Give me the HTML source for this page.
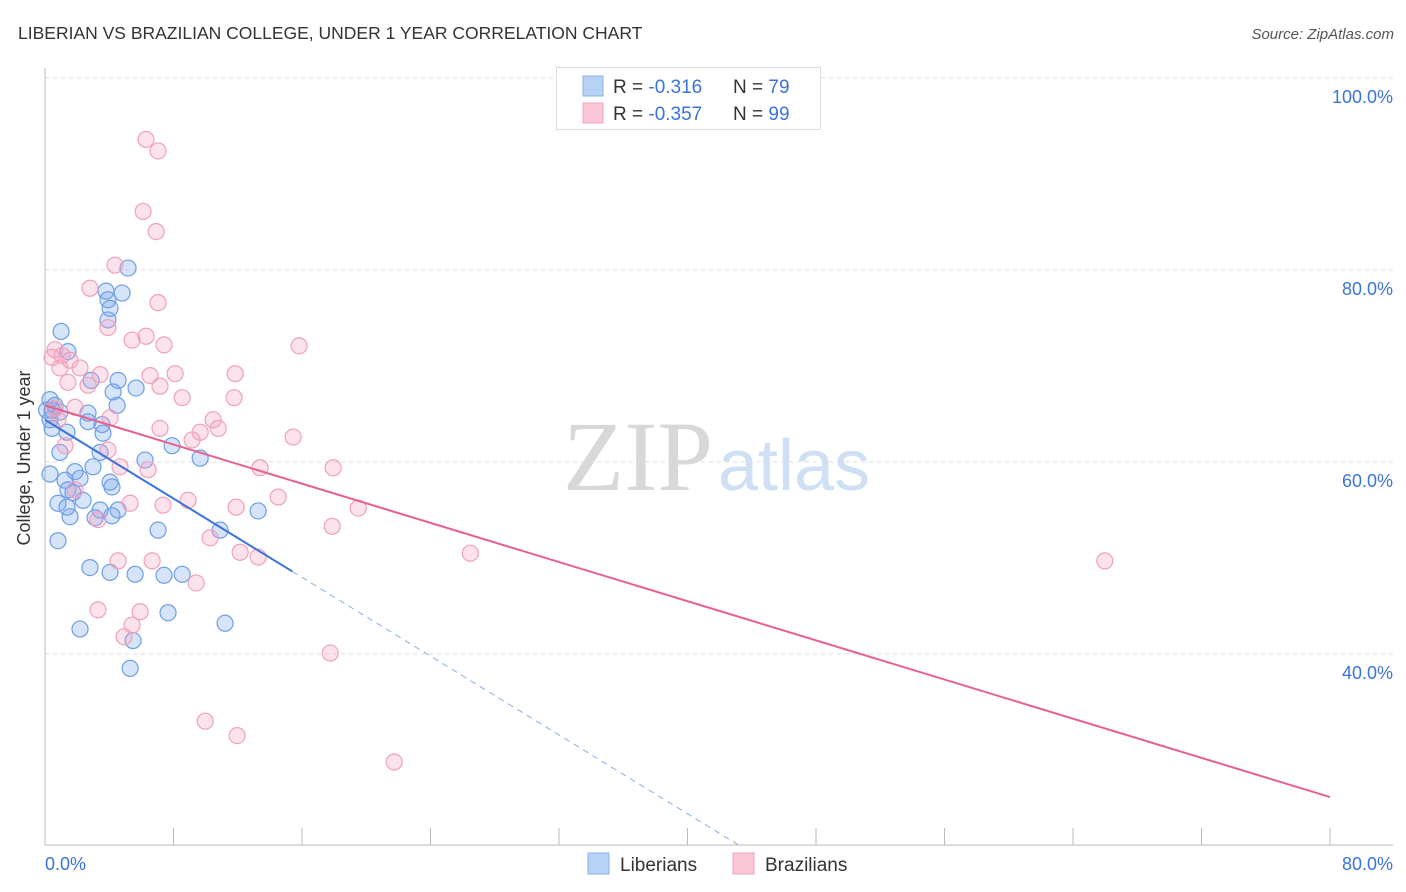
<!DOCTYPE html>
<html><head><meta charset="utf-8"><style>
html,body{margin:0;background:#fff;font-family:"Liberation Sans",sans-serif;overflow:hidden;}
svg{display:block;overflow:hidden;}
svg text{font-family:"Liberation Sans",sans-serif;}
</style></head><body>
<svg width="1406" height="892" xmlns="http://www.w3.org/2000/svg">
<text x="18" y="39" font-size="17.5" fill="#333">LIBERIAN VS BRAZILIAN COLLEGE, UNDER 1 YEAR CORRELATION CHART</text>
<text x="1394" y="39" font-size="15" fill="#555" text-anchor="end" font-style="italic">Source: ZipAtlas.com</text>
<g id="grid"></g>
<text x="713" y="490" font-size="100" fill="#d8d8d8" text-anchor="end" style="font-family:'Liberation Serif',serif">ZIP</text>
<text x="718" y="490" font-size="72" fill="#cfe0f5">atlas</text>
<g id="axes"></g>
<g id="pts"></g>
<g id="lines"></g>
<text x="30" y="458" font-size="18" fill="#333" text-anchor="middle" transform="rotate(-90 30 458)">College, Under 1 year</text>
<g>
<rect x="556.5" y="67.5" width="264" height="62" fill="#fff" stroke="#ddd"/>
<rect x="583" y="76" width="20" height="20" fill="#b8d2f5" stroke="#8ab0e8"/>
<rect x="583" y="103" width="20" height="20" fill="#fbc6d6" stroke="#f0a0bc"/>
<text x="613" y="93" font-size="19" fill="#333">R = <tspan fill="#3a73d9"> -0.316</tspan><tspan x="733">N = </tspan><tspan fill="#3a73d9">79</tspan></text>
<text x="613" y="120" font-size="19" fill="#333">R = <tspan fill="#3a73d9">-0.357</tspan><tspan x="733">N = </tspan><tspan fill="#3a73d9">99</tspan></text>
</g>
<g>
<rect x="588" y="853" width="21" height="21" fill="#b8d2f5" stroke="#8ab0e8"/>
<text x="620" y="871" font-size="19" fill="#333">Liberians</text>
<rect x="733" y="853" width="21" height="21" fill="#fbc6d6" stroke="#f0a0bc"/>
<text x="765" y="871" font-size="19" fill="#333">Brazilians</text>
</g>
</svg>
<script>
const blueX=[5.17,3.92,4.05,4.80,3.80,1.00,3.92,1.43,2.87,4.55,5.67,4.24,0.31,0.62,0.44,0.93,2.68,4.49,3.55,2.68,0.44,1.37,3.61,7.91,0.93,3.43,9.66,6.23,2.99,0.31,1.87,1.25,2.18,4.05,4.17,1.43,1.74,2.37,0.81,1.37,3.43,4.55,3.12,4.17,1.56,13.27,7.04,10.90,0.81,2.80,4.05,5.61,7.41,8.54,7.66,11.21,2.18,5.48,5.30,0.1,0.31];
const blueY=[80.2,76.9,76.0,77.6,77.8,73.6,74.8,71.5,68.5,68.5,67.7,67.3,66.5,65.9,65.4,65.2,65.1,65.9,63.9,64.2,63.5,63.1,63.0,61.7,61.0,61.0,60.4,60.2,59.5,58.75,59.0,58.1,58.3,57.9,57.4,57.1,56.8,56.0,55.7,55.3,55.0,55.0,54.2,54.4,54.3,54.9,52.9,52.9,51.8,49.0,48.5,48.3,48.2,48.3,44.3,43.2,42.6,41.4,38.5,65.4,64.4];
const pinkX=[6.29,7.04,6.11,6.92,4.36,2.80,7.04,3.92,6.29,5.42,7.41,15.82,0.62,0.44,1.56,0.93,3.43,6.54,8.10,11.84,1.43,2.68,7.16,8.54,11.77,0.62,1.87,4.05,10.47,7.16,10.78,9.66,9.16,15.45,1.25,3.92,4.67,6.42,13.39,17.94,1.87,5.30,8.91,7.35,11.90,19.50,14.52,3.30,17.88,10.28,12.15,13.27,26.48,65.98,4.55,6.67,9.41,3.30,5.92,5.42,4.92,17.76,9.97,11.96,21.74,1.06,2.18,0.81];
const pinkY=[93.6,92.4,86.1,84.0,80.5,78.1,76.6,74.0,73.1,72.7,72.2,72.1,71.7,70.9,70.6,69.8,69.1,69.0,69.2,69.2,68.3,68.0,67.9,66.7,66.7,65.6,65.7,64.6,64.4,63.5,63.5,63.1,62.3,62.6,61.7,61.25,59.5,59.2,59.4,59.4,57.1,55.7,56.0,55.5,55.3,55.2,56.35,54.0,53.3,52.1,50.6,50.1,50.5,49.7,49.7,49.7,47.4,44.6,44.4,43.0,41.8,40.1,33.0,31.5,28.75,71.1,69.8,64.4];
const yTicks=[100,80,60,40];
const yTickLabels=["100.0%","80.0%","60.0%","40.0%"];
const xTicks=[0,8,16,24,32,40,48,56,64,72,80];
const blueTrend=[[0,64.4],[15.4,48.6]];
const pinkTrend=[[0,65.9],[80,25.1]];
const yMin=20.1;
const NS="http://www.w3.org/2000/svg";
const X=v=>45+v/80*1285, Y=v=>78+(100-v)*9.6;
function mk(tag,parent,attrs){const e=document.createElementNS(NS,tag);for(const k in attrs)e.setAttribute(k,attrs[k]);document.getElementById(parent).appendChild(e);return e;}
yTicks.forEach((t,i)=>{
 const l=mk('line','grid',{x1:45,x2:1393,y1:Y(t),y2:Y(t),stroke:'#ddd','stroke-dasharray':'4,4'});
 
 
 const tx=mk('text','grid',{x:1393,y:Y(t)+25,'font-size':18,fill:'#3a73d9','text-anchor':'end'});
 tx.textContent=yTickLabels[i];
 
 
});
mk('line','axes',{x1:45,x2:45,y1:68,y2:845,stroke:'#bbb'});
mk('line','axes',{x1:45,x2:1393,y1:845,y2:845,stroke:'#bbb'});
xTicks.forEach(t=>{const l=mk('line','axes',{x1:X(t),x2:X(t),y1:828,y2:845,stroke:'#bbb'});
 
 });
const x0=mk('text','axes',{x:45,y:870,'font-size':18,fill:'#3a73d9'});x0.textContent='0.0%';


const x1=mk('text','axes',{x:1393,y:870,'font-size':18,fill:'#3a73d9','text-anchor':'end'});x1.textContent='80.0%';


blueX.forEach((v,i)=>{const c=mk('circle','pts',{cx:X(v),cy:Y(blueY[i]),r:8,fill:'rgba(120,165,235,0.3)',stroke:'#6d9ee6','stroke-width':1.2});
 
 });
pinkX.forEach((v,i)=>{const c=mk('circle','pts',{cx:X(v),cy:Y(pinkY[i]),r:8,fill:'rgba(245,160,190,0.3)',stroke:'#f0a0bc','stroke-width':1.2});
 
 });
const bl=mk('line','lines',{x1:X(blueTrend[0][0]),y1:Y(blueTrend[0][1]),x2:X(blueTrend[1][0]),y2:Y(blueTrend[1][1]),stroke:'#3a73d9','stroke-width':2});


const slope=(blueTrend[1][1]-blueTrend[0][1])/(blueTrend[1][0]-blueTrend[0][0]);
const xEnd=blueTrend[1][0]+(yMin-blueTrend[1][1])/slope;
const bd=mk('line','lines',{x1:X(blueTrend[1][0]),y1:Y(blueTrend[1][1]),x2:X(xEnd),y2:Y(yMin),stroke:'#8ab0e8','stroke-width':1,'stroke-dasharray':'6,5'});


const pl=mk('line','lines',{x1:X(pinkTrend[0][0]),y1:Y(pinkTrend[0][1]),x2:X(pinkTrend[1][0]),y2:Y(pinkTrend[1][1]),stroke:'#e8608e','stroke-width':2});


</script>
</body></html>
